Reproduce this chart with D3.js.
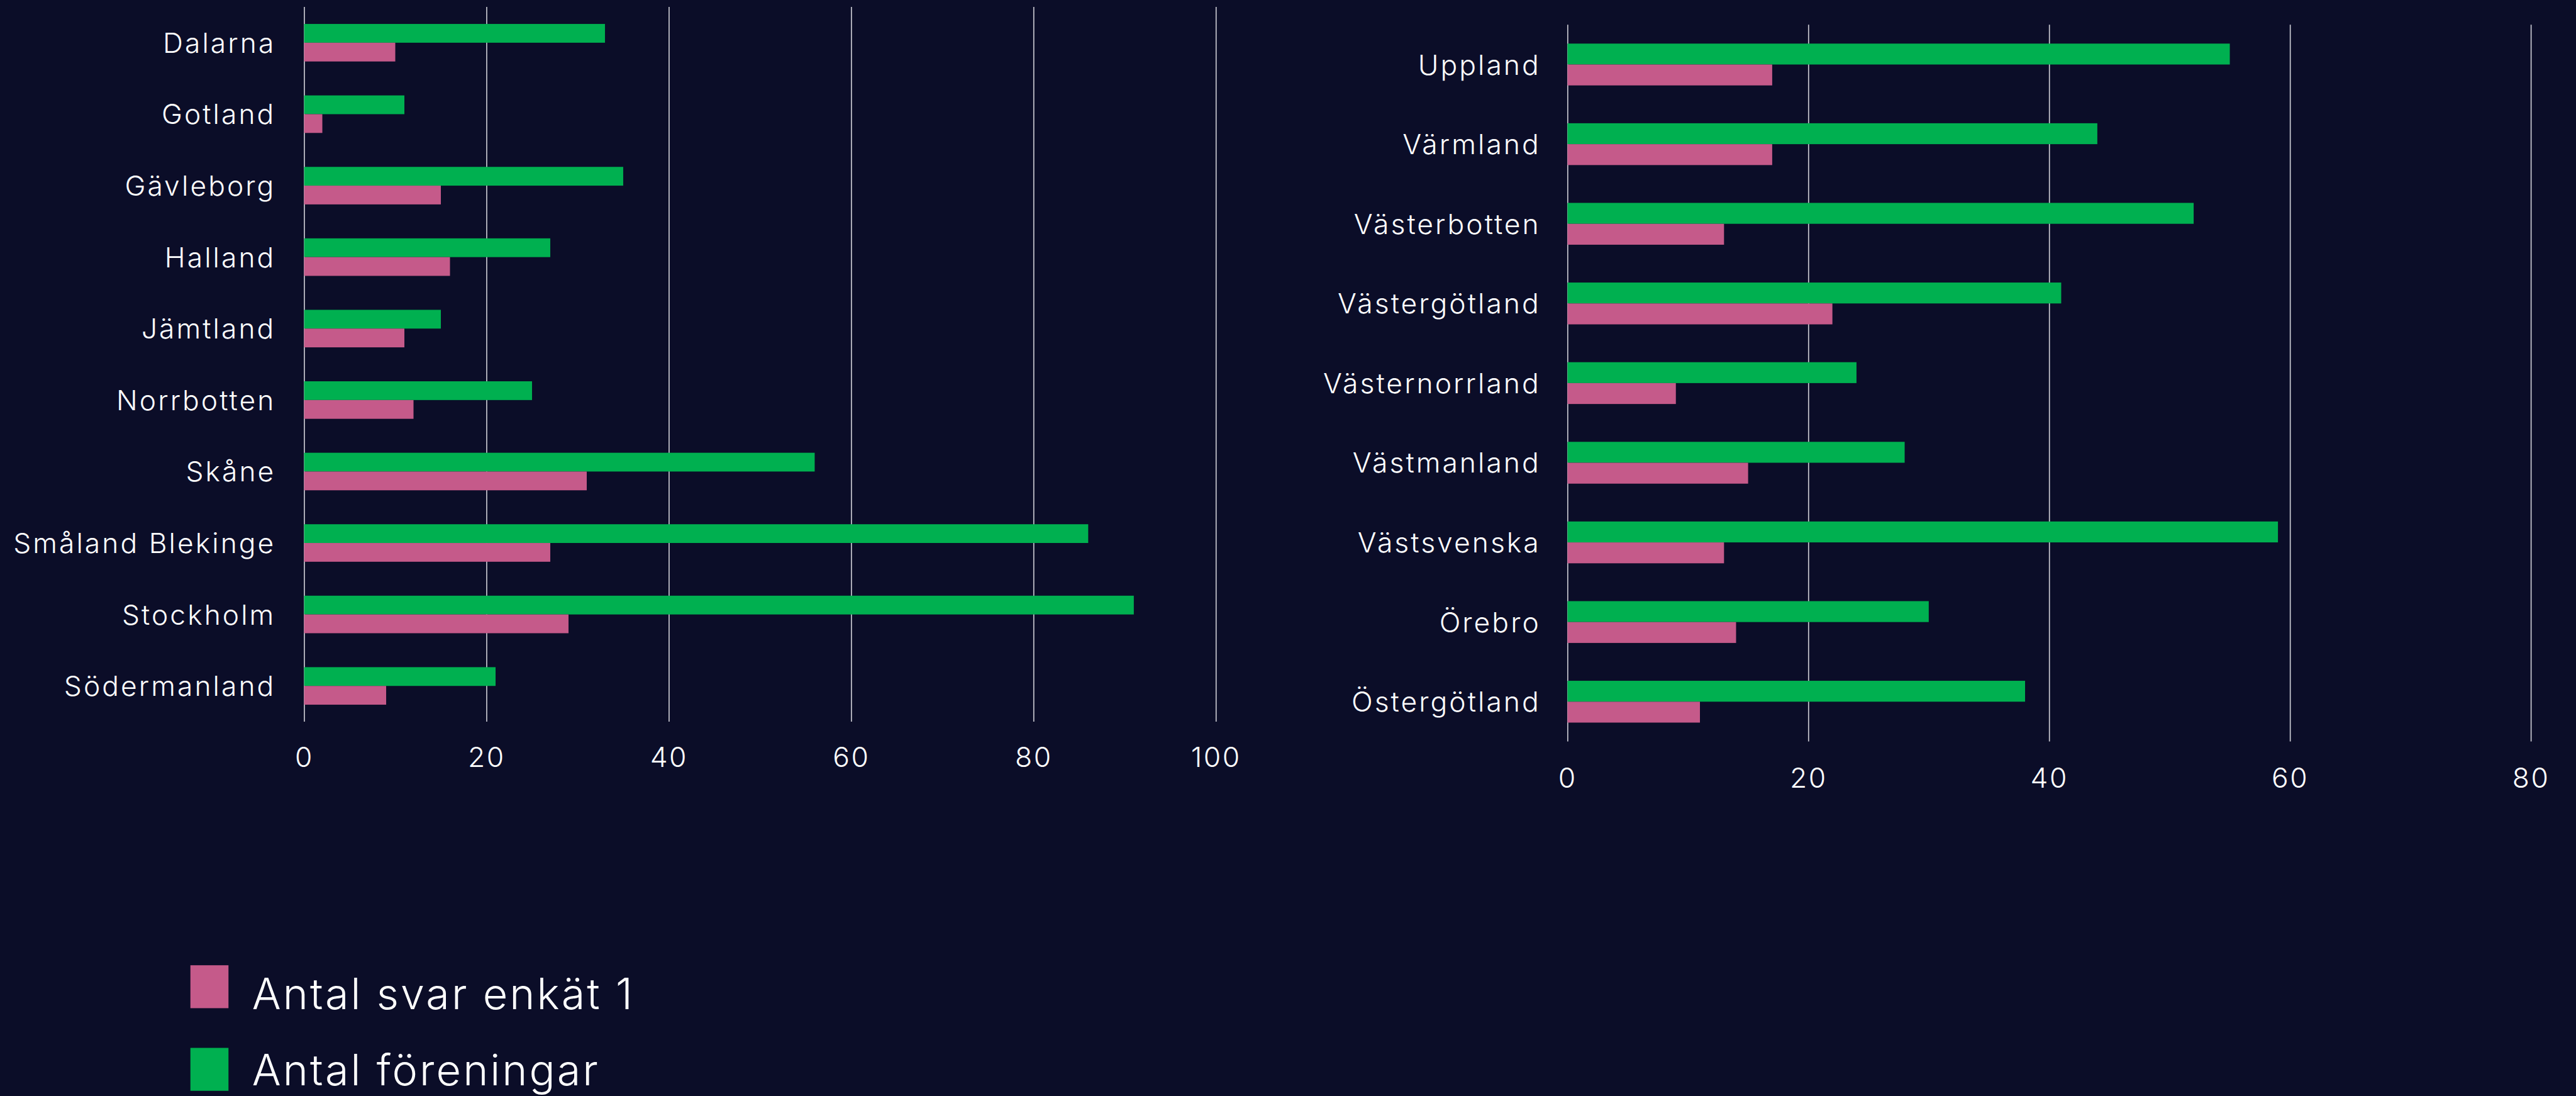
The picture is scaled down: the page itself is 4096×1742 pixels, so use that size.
<!DOCTYPE html>
<html>
<head>
  <meta charset="utf-8">
  <title>Antal föreningar och svar per distrikt</title>
  <script src="https://d3js.org/d3.v7.min.js"></script>
  <style>
    html, body { margin: 0; padding: 0; background: #0b0d28; overflow: hidden; }
    text { font-family: Inter, "Open Sans", sans-serif; font-weight: 300; fill: #ffffff; }
  </style>
</head>
<body>
  <script>
  // data
  var leftRegions = ['Dalarna','Gotland','Gävleborg','Halland','Jämtland','Norrbotten','Skåne','Småland Blekinge','Stockholm','Södermanland'];
  var leftForeningar = [33,11,35,27,15,25,56,86,91,21];
  var leftSvar = [10,2,15,16,11,12,31,27,29,9];
  var leftTicks = [0,20,40,60,80,100];

  var rightRegions = ['Uppland','Värmland','Västerbotten','Västergötland','Västernorrland','Västmanland','Västsvenska','Örebro','Östergötland'];
  var rightForeningar = [55,44,52,41,24,28,59,30,38];
  var rightSvar = [17,17,13,22,9,15,13,14,11];
  var rightTicks = [0,20,40,60,80];

  var seriesNames = ['Antal svar enkät 1','Antal föreningar'];
  var seriesColors = ['#c55a8a','#00b050'];

  // canvas (drawn in reference units, then scaled down)
  var width = 4096, height = 1742;
  var k = width / 4803;
  var svg = d3.select('body').append('svg')
    .attr('width', width)
    .attr('height', height);
  svg.append('rect').attr('width', width).attr('height', height).attr('fill', '#0b0d28');
  var root = svg.append('g').attr('transform', 'scale(' + k + ')');

  function panel(regions, foreningar, svar, ticks, x0, x1, y0, y1, labelGap, pad) {
    var g = root.append('g');
    var x = d3.scaleLinear().domain([0, ticks[ticks.length - 1]]).range([x0, x1]);
    var y = d3.scaleBand().domain(regions).range([y0, y1]).paddingInner(0.475).paddingOuter(0.2375);
    var half = y.bandwidth() / 2;

    // gridlines + tick labels
    var axis = g.append('g')
      .attr('transform', 'translate(0,' + y1 + ')')
      .call(d3.axisBottom(x).tickValues(ticks).tickSize(-(y1 - y0)).tickPadding(pad));
    axis.select('.domain').remove();
    axis.selectAll('line').attr('stroke', '#c8c8d0').attr('stroke-width', 2);
    axis.selectAll('text').attr('font-size', 52).attr('fill', '#ffffff')
      .attr('letter-spacing', 3)
      .style('font-family', 'Inter, sans-serif').style('font-weight', 300);

    var rows = regions.map(function(r, i) { return {name: r, f: foreningar[i], s: svar[i]}; });

    g.selectAll('.bf').data(rows).enter().append('rect')
      .attr('x', x(0))
      .attr('y', function(d) { return y(d.name); })
      .attr('width', function(d) { return x(d.f) - x(0); })
      .attr('height', half)
      .attr('fill', seriesColors[1]);

    g.selectAll('.bs').data(rows).enter().append('rect')
      .attr('x', x(0))
      .attr('y', function(d) { return y(d.name) + half; })
      .attr('width', function(d) { return x(d.s) - x(0); })
      .attr('height', half)
      .attr('fill', seriesColors[0]);

    g.selectAll('.lab').data(rows).enter().append('text')
      .attr('x', x0 - labelGap)
      .attr('y', function(d) { return y(d.name) + half; })
      .attr('text-anchor', 'end')
      .attr('dominant-baseline', 'central')
      .attr('font-size', 52)
      .attr('letter-spacing', 3.6)
      .text(function(d) { return d.name; });
  }

  panel(leftRegions, leftForeningar, leftSvar, leftTicks, 567, 2267, 13, 1345, 53, 48);
  panel(rightRegions, rightForeningar, rightSvar, rightTicks, 2922.6, 4718.8, 46, 1382, 50, 49);

  // legend
  var legend = root.append('g');
  var legRows = [{y: 1799, base: 1881}, {y: 1953, base: 2023}];
  legend.selectAll('rect').data(seriesNames).enter().append('rect')
    .attr('x', 355)
    .attr('y', function(d, i) { return legRows[i].y; })
    .attr('width', 71)
    .attr('height', 80)
    .attr('fill', function(d, i) { return seriesColors[i]; });
  legend.selectAll('text').data(seriesNames).enter().append('text')
    .attr('x', 470)
    .attr('y', function(d, i) { return legRows[i].base; })
    .attr('font-size', 80)
    .attr('letter-spacing', 3.6)
    .text(function(d) { return d; });
  </script>
</body>
</html>
